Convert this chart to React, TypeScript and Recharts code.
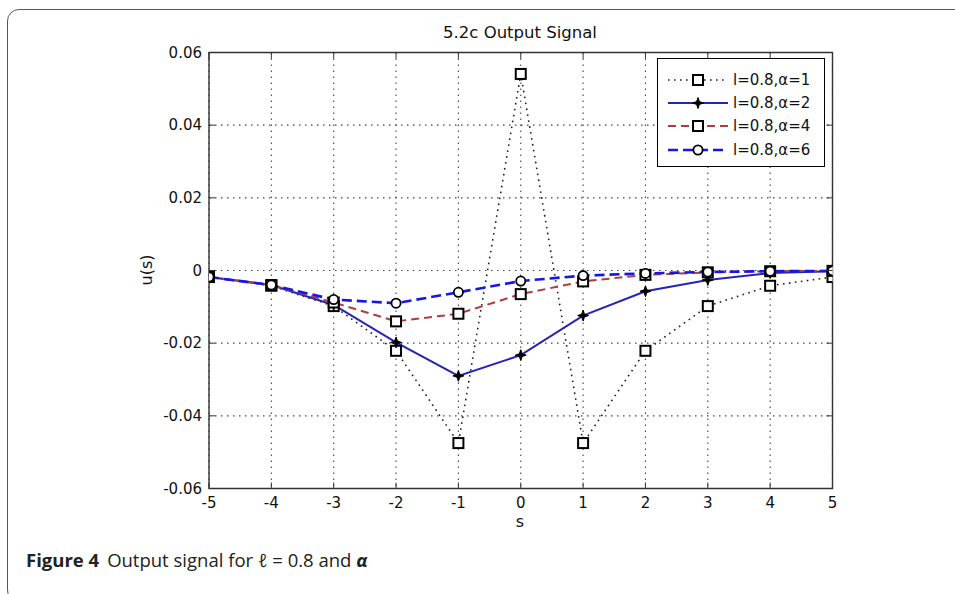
import React from "react";
import {
  LineChart,
  Line,
  XAxis,
  YAxis,
  CartesianGrid,
  ReferenceArea,
  Legend,
} from "recharts";

// Sample positions s and the output signal u(s) for l = 0.8 at four alpha values
const S_VALUES = [-5, -4, -3, -2, -1, 0, 1, 2, 3, 4, 5];
const U_ALPHA1 = [-0.0018, -0.0042, -0.0098, -0.0221, -0.0475, 0.0541, -0.0475, -0.0221, -0.0098, -0.0042, -0.0018];
const U_ALPHA2 = [-0.0018, -0.004, -0.0095, -0.0198, -0.029, -0.0233, -0.0124, -0.0057, -0.0026, -0.0007, -0.0002];
const U_ALPHA4 = [-0.0018, -0.004, -0.0088, -0.014, -0.0119, -0.0065, -0.003, -0.0012, -0.0005, -0.0002, -0.0001];
const U_ALPHA6 = [-0.0018, -0.004, -0.008, -0.009, -0.006, -0.0029, -0.0014, -0.0008, -0.0004, -0.0002, -0.0001];

const X_TICKS = [-5, -4, -3, -2, -1, 0, 1, 2, 3, 4, 5];
const Y_TICKS = [-0.06, -0.04, -0.02, 0, 0.02, 0.04, 0.06];

const SERIES_NAMES = ["l=0.8,\u03b1=1", "l=0.8,\u03b1=2", "l=0.8,\u03b1=4", "l=0.8,\u03b1=6"];

const data = S_VALUES.map((s, i) => ({
  s,
  a1: U_ALPHA1[i],
  a2: U_ALPHA2[i],
  a4: U_ALPHA4[i],
  a6: U_ALPHA6[i],
}));

type MarkerKind = "square" | "star" | "circle";

const SERIES: {
  key: string;
  name: string;
  color: string;
  width: number;
  dash?: string;
  marker: MarkerKind;
}[] = [
  { key: "a1", name: SERIES_NAMES[0], color: "#1e1e1e", width: 1.6, dash: "1.6 4.4", marker: "square" },
  { key: "a2", name: SERIES_NAMES[1], color: "#2424b8", width: 2, marker: "star" },
  { key: "a4", name: SERIES_NAMES[2], color: "#b03c3c", width: 2, dash: "8 5", marker: "square" },
  { key: "a6", name: SERIES_NAMES[3], color: "#1616e6", width: 2.6, dash: "10 5", marker: "circle" },
];

// Plot box geometry
const W = 955;
const H = 594;
const PLOT_LEFT = 209;
const PLOT_RIGHT = 832.5;
const PLOT_TOP = 52.5;
const PLOT_BOTTOM = 488.5;
const Y_AXIS_W = 60;
const X_AXIS_H = 30;
const TICK_LEN = 6;
const AXIS_FONT = "'DejaVu Sans', sans-serif";

function Marker({ kind, cx, cy }: { kind: MarkerKind; cx: number; cy: number }) {
  if (kind === "square") {
    return (
      <rect x={cx - 5} y={cy - 5} width={10} height={10} fill="#fff" stroke="#000" strokeWidth={2} />
    );
  }
  if (kind === "circle") {
    return <circle cx={cx} cy={cy} r={4.6} fill="#fff" stroke="#000" strokeWidth={1.8} />;
  }
  const r1 = 5.5;
  const r2 = 2;
  const pts: string[] = [];
  for (let k = 0; k < 8; k++) {
    const ang = (Math.PI / 4) * k - Math.PI / 2;
    const r = k % 2 === 0 ? r1 : r2;
    pts.push(`${cx + r * Math.cos(ang)},${cy + r * Math.sin(ang)}`);
  }
  return <polygon points={pts.join(" ")} fill="#000" stroke="#000" strokeWidth={1} />;
}

const fmtY = (v: number) => (v === 0 ? "0" : v.toFixed(2));

function XTick(props: any) {
  const { x, payload } = props;
  return (
    <g>
      <line x1={x} x2={x} y1={PLOT_BOTTOM} y2={PLOT_BOTTOM - TICK_LEN} stroke="#333" strokeWidth={1} />
      <line x1={x} x2={x} y1={PLOT_TOP} y2={PLOT_TOP + TICK_LEN} stroke="#333" strokeWidth={1} />
      <text
        x={x}
        y={PLOT_BOTTOM + 14}
        textAnchor="middle"
        dominantBaseline="central"
        fontFamily={AXIS_FONT}
        fontSize={15}
        fill="#111"
      >
        {payload.value}
      </text>
    </g>
  );
}

function YTick(props: any) {
  const { y, payload } = props;
  return (
    <g>
      <line x1={PLOT_LEFT} x2={PLOT_LEFT + TICK_LEN} y1={y} y2={y} stroke="#333" strokeWidth={1} />
      <line x1={PLOT_RIGHT} x2={PLOT_RIGHT - TICK_LEN} y1={y} y2={y} stroke="#333" strokeWidth={1} />
      <text
        x={PLOT_LEFT - 7}
        y={y}
        textAnchor="end"
        dominantBaseline="central"
        fontFamily={AXIS_FONT}
        fontSize={15}
        fill="#111"
      >
        {fmtY(payload.value)}
      </text>
    </g>
  );
}

function LegendBox() {
  return (
    <div
      style={{
        width: 168,
        height: 109,
        boxSizing: "border-box",
        border: "1px solid #000",
        background: "#fff",
        paddingTop: 9,
      }}
    >
      {SERIES.map((s) => (
        <div key={s.key} style={{ display: "flex", alignItems: "center", height: 23.4 }}>
          <svg width={74} height={18} style={{ display: "block" }}>
            <line
              x1={10}
              x2={70}
              y1={9}
              y2={9}
              stroke={s.color}
              strokeWidth={s.width}
              strokeDasharray={s.dash}
            />
            <Marker kind={s.marker} cx={40} cy={9} />
          </svg>
          <span
            style={{
              fontFamily: AXIS_FONT,
              fontSize: 15,
              color: "#111",
              marginLeft: 1,
              whiteSpace: "nowrap",
            }}
          >
            {s.name}
          </span>
        </div>
      ))}
    </div>
  );
}

export default function App() {
  return (
    <div
      style={{
        position: "absolute",
        left: 0,
        top: 0,
        width: W,
        height: H,
        overflow: "hidden",
        background: "#fff",
      }}
    >
      {/* figure frame, open at the right and bottom edges */}
      <div
        style={{
          position: "absolute",
          left: 7,
          top: 9,
          width: 1000,
          height: 600,
          border: "1.6px solid #555",
          borderRadius: "12px 12px 12px 20px",
          boxSizing: "border-box",
        }}
      />
      <div style={{ position: "absolute", left: 0, top: 0 }}>
        <LineChart
          width={W}
          height={H}
          data={data}
          margin={{
            top: PLOT_TOP,
            right: W - PLOT_RIGHT,
            bottom: H - PLOT_BOTTOM - X_AXIS_H,
            left: PLOT_LEFT - Y_AXIS_W,
          }}
        >
          <CartesianGrid
            stroke="#444"
            strokeWidth={1.1}
            strokeDasharray="1.5 4.5"
            horizontalValues={Y_TICKS}
            verticalValues={X_TICKS}
          />
          <XAxis
            dataKey="s"
            type="number"
            domain={[-5, 5]}
            ticks={X_TICKS}
            interval={0}
            height={X_AXIS_H}
            tickLine={false}
            axisLine={false}
            tickSize={0}
            tick={<XTick />}
            allowDataOverflow
          />
          <YAxis
            type="number"
            domain={[-0.06, 0.06]}
            ticks={Y_TICKS}
            interval={0}
            width={Y_AXIS_W}
            tickLine={false}
            axisLine={false}
            tickSize={0}
            tick={<YTick />}
            allowDataOverflow
          />
          {SERIES.map((s) => (
            <Line
              key={s.key}
              dataKey={s.key}
              name={s.name}
              type="linear"
              stroke={s.color}
              strokeWidth={s.width}
              strokeDasharray={s.dash}
              isAnimationActive={false}
              dot={(p: any) => (
                <Marker key={`${s.key}-${p.index}`} kind={s.marker} cx={p.cx} cy={p.cy} />
              )}
              activeDot={false}
            />
          ))}
          <ReferenceArea
            x1={-5}
            x2={5}
            y1={-0.06}
            y2={0.06}
            fill="none"
            stroke="#333"
            strokeWidth={1.4}
            ifOverflow="visible"
          />
          <Legend
            layout="vertical"
            align="center"
            verticalAlign="middle"
            content={() => <LegendBox />}
            wrapperStyle={{ position: "absolute", left: 657, top: 58, width: 168, height: 109 }}
          />
        </LineChart>
      </div>
      {/* title and axis labels */}
      <div
        style={{
          position: "absolute",
          left: 320,
          width: 400,
          top: 23,
          textAlign: "center",
          fontFamily: AXIS_FONT,
          fontSize: 16.5,
          lineHeight: "20px",
          color: "#111",
        }}
      >
        5.2c Output Signal
      </div>
      <div
        style={{
          position: "absolute",
          left: 520 - 20,
          width: 40,
          top: 512,
          textAlign: "center",
          fontFamily: AXIS_FONT,
          fontSize: 16,
          lineHeight: "20px",
          color: "#111",
        }}
      >
        s
      </div>
      <div
        style={{
          position: "absolute",
          left: 147 - 30,
          top: 270 - 10,
          width: 60,
          height: 20,
          textAlign: "center",
          fontFamily: AXIS_FONT,
          fontSize: 16,
          lineHeight: "20px",
          color: "#111",
          transform: "rotate(-90deg)",
        }}
      >
        u(s)
      </div>
      {/* caption */}
      <div
        style={{
          position: "absolute",
          left: 26,
          top: 548,
          fontFamily: "'Open Sans', sans-serif",
          fontSize: 18.5,
          lineHeight: "24px",
          color: "#222",
          whiteSpace: "nowrap",
        }}
      >
        <span style={{ fontWeight: 700 }}>Figure 4</span>
        <span style={{ marginLeft: 8 }}>
          Output signal for <span style={{ fontStyle: "italic" }}>{"\u2113"}</span> = 0.8 and{" "}
          <span style={{ fontStyle: "italic", fontWeight: 700 }}>{"\u03b1"}</span>
        </span>
      </div>
    </div>
  );
}
